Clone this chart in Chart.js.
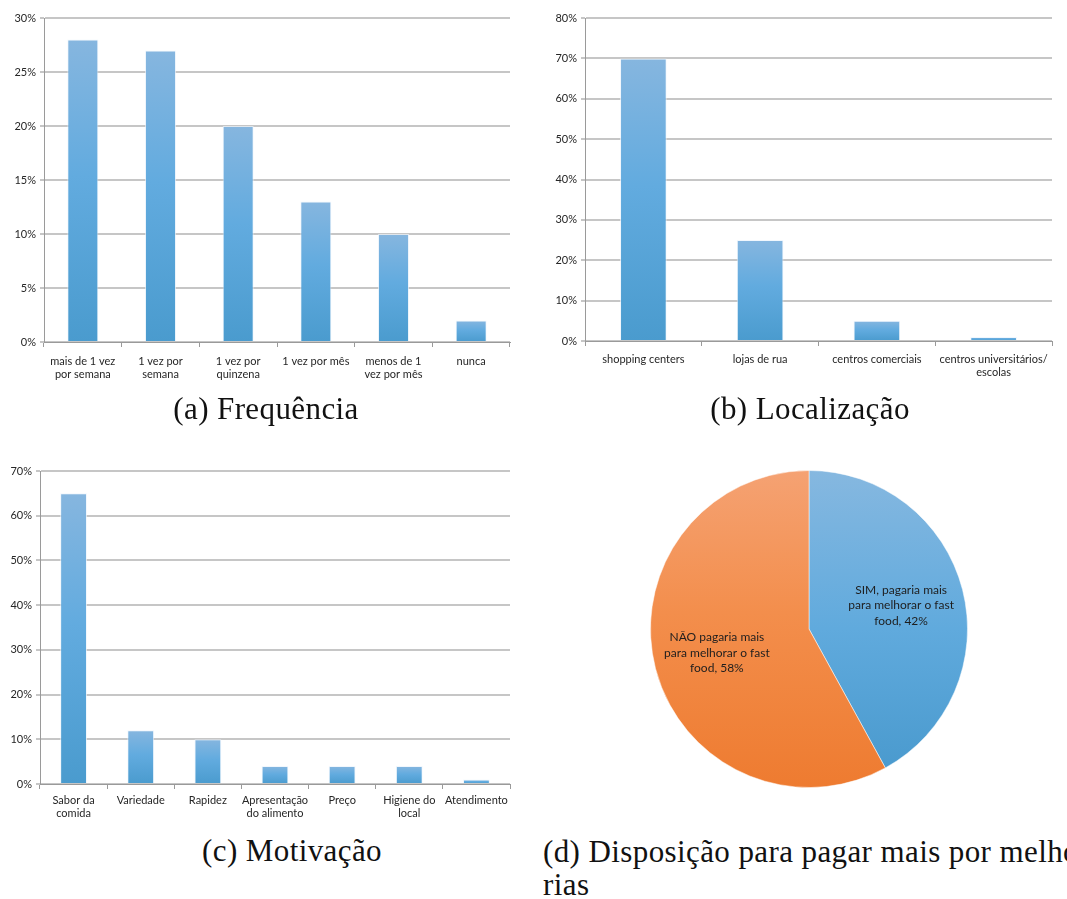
<!DOCTYPE html>
<html lang="pt">
<head>
<meta charset="utf-8">
<title>Hábitos de consumo de fast food</title>
<script src="https://cdn.jsdelivr.net/npm/chart.js@4/dist/chart.umd.min.js"></script>
<style>
  html, body { margin: 0; padding: 0; background: #fff; overflow: hidden; }
  body { width: 1067px; height: 899px; position: relative; }
  .panel { position: absolute; }
  .panel canvas { display: block; }
  .caption {
    position: absolute;
    font-family: "Liberation Serif", "DejaVu Serif", serif;
    font-size: 31px;
    line-height: 31px;
    letter-spacing: 0.4px;
    color: #111;
    white-space: nowrap;
  }
</style>
</head>
<body>
<div class="panel" style="left:0;top:0;"><canvas id="freq" width="515" height="395"></canvas></div>
<div class="panel" style="left:530px;top:0;"><canvas id="local" width="537" height="395"></canvas></div>
<div class="panel" style="left:0;top:455px;"><canvas id="motiv" width="520" height="375"></canvas></div>
<div class="panel" style="left:650px;top:470px;"><canvas id="disp" width="318" height="318"></canvas></div>

<div class="caption" style="left:0;width:532px;top:393px;text-align:center;">(a) Frequência</div>
<div class="caption" style="left:545px;width:530px;top:393px;text-align:center;">(b) Localização</div>
<div class="caption" style="left:0;width:584px;top:835px;text-align:center;">(c) Motivação</div>
<div class="caption" style="left:543px;top:835px;line-height:33px;">(d) Disposição para pagar mais por melho-<br>rias</div>

<script>
// (a) Frequência
const freqLabels = [
  ['mais de 1 vez', 'por semana'],
  ['1 vez por', 'semana'],
  ['1 vez por', 'quinzena'],
  '1 vez por mês',
  ['menos de 1', 'vez por mês'],
  'nunca'
];
const freqValues = [28, 27, 20, 13, 10, 2];

// (b) Localização
const localLabels = [
  'shopping centers',
  'lojas de rua',
  'centros comerciais',
  ['centros universitários/', 'escolas']
];
const localValues = [70, 25, 5, 1];

// (c) Motivação
const motivLabels = [
  ['Sabor da', 'comida'],
  'Variedade',
  'Rapidez',
  ['Apresentação', 'do alimento'],
  'Preço',
  ['Higiene do', 'local'],
  'Atendimento'
];
const motivValues = [65, 12, 10, 4, 4, 4, 1];

// (d) Disposição para pagar mais
const dispLabels = [
  ['SIM, pagaria mais', 'para melhorar o fast', 'food'],
  ['NÃO pagaria mais', 'para melhorar o fast', 'food']
];
const dispValues = [42, 58];

const TICK_FONT = { family: 'Lato, "Open Sans", sans-serif', size: 11 };
const TEXT_COLOR = '#262626';
const GRID_COLOR = '#c6c6c6';
const AXIS_COLOR = '#9a9a9a';

// vertical blue gradient from each bar's top to the baseline
function barFill(ctx) {
  const chart = ctx.chart;
  if (!chart.chartArea || ctx.raw === undefined) return '#5fa9dc';
  const y = chart.scales.y;
  const top = y.getPixelForValue(ctx.raw);
  const bottom = y.getPixelForValue(0);
  const g = chart.ctx.createLinearGradient(0, top, 0, bottom);
  g.addColorStop(0, '#86b6df');
  g.addColorStop(0.45, '#62abdf');
  g.addColorStop(1, '#4a9bce');
  return g;
}

function barChart(id, labels, values, yMax, yStep, box) {
  return new Chart(document.getElementById(id), {
    type: 'bar',
    data: {
      labels: labels,
      datasets: [{
        data: values,
        backgroundColor: barFill,
        borderColor: 'rgba(235,244,252,0.7)',
        borderWidth: 1,
        borderSkipped: 'bottom',
        categoryPercentage: 1,
        barPercentage: 0.4
      }]
    },
    options: {
      responsive: false,
      animation: false,
      layout: { padding: { top: box.top, right: box.right, left: 0, bottom: 0 } },
      plugins: { legend: { display: false }, tooltip: { enabled: false } },
      scales: {
        x: {
          offset: true,
          grid: {
            offset: true,
            drawOnChartArea: false,
            drawTicks: true,
            tickLength: 5,
            color: AXIS_COLOR,
            lineWidth: 1
          },
          border: { display: true, color: AXIS_COLOR, width: 1 },
          ticks: {
            font: TICK_FONT,
            color: TEXT_COLOR,
            padding: box.labelPad,
            maxRotation: 0,
            autoSkip: false,
            lineHeight: box.lineHeight
          },
          afterFit(scale) { scale.height = box.xHeight; }
        },
        y: {
          min: 0,
          max: yMax,
          ticks: {
            stepSize: yStep,
            font: TICK_FONT,
            color: TEXT_COLOR,
            padding: 4,
            callback: v => v + '%'
          },
          grid: {
            color: GRID_COLOR,
            lineWidth: 2,
            drawTicks: true,
            tickLength: 4
          },
          border: { display: true, color: AXIS_COLOR, width: 1 },
          afterFit(scale) { scale.width = box.yWidth; }
        }
      }
    }
  });
}

barChart('freq', freqLabels, freqValues, 30, 5,
  { top: 18, right: 5, yWidth: 44, xHeight: 53, labelPad: 8, lineHeight: 1.5 });
barChart('local', localLabels, localValues, 80, 10,
  { top: 18, right: 15, yWidth: 55, xHeight: 54, labelPad: 7, lineHeight: 1.5 });
barChart('motiv', motivLabels, motivValues, 70, 10,
  { top: 16, right: 10, yWidth: 40, xHeight: 46, labelPad: 5, lineHeight: 1.35 });

// pie slice fills: vertical gradients over the whole disc
function pieFill(ctx) {
  const chart = ctx.chart;
  const area = chart.chartArea;
  if (!area) return ctx.dataIndex === 0 ? '#5fa9dc' : '#f08a45';
  const g = chart.ctx.createLinearGradient(0, area.top, 0, area.bottom);
  if (ctx.dataIndex === 0) {
    g.addColorStop(0, '#86b8e0');
    g.addColorStop(0.5, '#60aadd');
    g.addColorStop(1, '#4798cc');
  } else {
    g.addColorStop(0, '#f5a273');
    g.addColorStop(0.45, '#f38e4c');
    g.addColorStop(1, '#ee7b30');
  }
  return g;
}

// text label inside each slice: name lines, then ", value%"
const sliceLabels = {
  id: 'sliceLabels',
  afterDatasetsDraw(chart) {
    const ctx = chart.ctx;
    const meta = chart.getDatasetMeta(0);
    ctx.save();
    ctx.font = '12px Lato, "Open Sans", sans-serif';
    ctx.fillStyle = '#1e1e1e';
    ctx.textAlign = 'center';
    ctx.textBaseline = 'middle';
    const lh = 15.5;
    meta.data.forEach((arc, i) => {
      const p = arc.getProps(['x', 'y', 'startAngle', 'endAngle', 'outerRadius'], true);
      const mid = (p.startAngle + p.endAngle) / 2;
      const r = p.outerRadius * 0.6;
      const cx = p.x + Math.cos(mid) * r;
      const cy = p.y + Math.sin(mid) * r;
      const lines = dispLabels[i].slice();
      lines[lines.length - 1] += ', ' + dispValues[i] + '%';
      const y0 = cy - (lines.length - 1) * lh / 2;
      lines.forEach((t, k) => ctx.fillText(t, cx, y0 + k * lh));
    });
    ctx.restore();
  }
};

new Chart(document.getElementById('disp'), {
  type: 'pie',
  data: {
    labels: dispLabels.map(l => l.join(' ')),
    datasets: [{
      data: dispValues,
      backgroundColor: pieFill,
      borderColor: 'rgba(255,255,255,0.5)',
      borderWidth: 1
    }]
  },
  options: {
    responsive: false,
    animation: false,
    layout: { padding: 0 },
    plugins: { legend: { display: false }, tooltip: { enabled: false } }
  },
  plugins: [sliceLabels]
});
</script>
</body>
</html>
